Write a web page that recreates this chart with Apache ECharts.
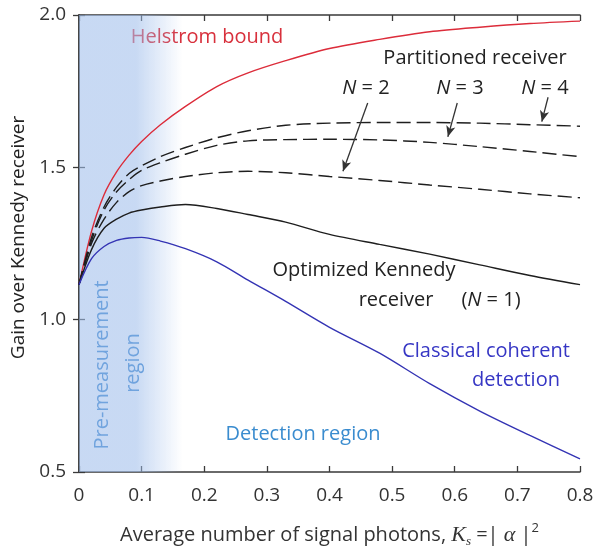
<!DOCTYPE html>
<html>
<head>
<meta charset="utf-8">
<script src="https://cdn.jsdelivr.net/npm/echarts@6/dist/echarts.min.js"></script>
<style>
  html, body { margin: 0; padding: 0; background: #fff; }
  #chartBox { width: 600px; height: 548px; }
</style>
</head>
<body>
<div id="chartBox"></div>
<script>
// photon number (x) and gain values
let photons = [0, 0.02, 0.04, 0.06, 0.08, 0.1, 0.13, 0.17, 0.22, 0.27, 0.33, 0.4, 0.48, 0.56, 0.64, 0.72, 0.8]
let helstrom = [1.115, 1.29, 1.41, 1.485, 1.54, 1.585, 1.64, 1.70, 1.765, 1.81, 1.85, 1.89, 1.92, 1.945, 1.96, 1.972, 1.98]
let partN4 = [1.115, 1.27, 1.37, 1.435, 1.48, 1.505, 1.535, 1.565, 1.597, 1.62, 1.638, 1.645, 1.647, 1.647, 1.645, 1.64, 1.635]
let partN3 = [1.115, 1.26, 1.36, 1.42, 1.46, 1.49, 1.515, 1.543, 1.572, 1.587, 1.591, 1.592, 1.59, 1.582, 1.568, 1.552, 1.535]
let partN2 = [1.115, 1.25, 1.33, 1.385, 1.42, 1.44, 1.455, 1.47, 1.482, 1.487, 1.482, 1.47, 1.457, 1.442, 1.428, 1.413, 1.40]
let kennedy = [1.115, 1.23, 1.30, 1.33, 1.35, 1.36, 1.37, 1.378, 1.365, 1.345, 1.32, 1.28, 1.247, 1.215, 1.18, 1.145, 1.115]
let classical = [1.115, 1.20, 1.24, 1.26, 1.268, 1.27, 1.258, 1.233, 1.19, 1.13, 1.06, 0.975, 0.89, 0.79, 0.70, 0.62, 0.543]

let xTicks = [0, 0.1, 0.2, 0.3, 0.4, 0.5, 0.6, 0.7, 0.8]
let yTicks = [0.5, 1.0, 1.5, 2.0]
let preRegion = [0, 0.165]

// arrows from the N labels down to the curves
let arrowN2 = [[0.461, 1.711], [0.4215, 1.487]]
let arrowN3 = [[0.604, 1.711], [0.589, 1.60]]
let arrowN4 = [[0.749, 1.73], [0.739, 1.65]]

const FONT = '"Open Sans", Lato, sans-serif'

function pairs (ys) {
  return photons.map(function (x, i) { return [x, ys[i]] })
}

function curve (name, ys, color, dashed) {
  return {
    name: name,
    type: 'line',
    data: pairs(ys),
    smooth: 0.3,
    symbol: 'none',
    z: 2,
    lineStyle: { color: color, width: 1.4, type: dashed ? [14, 6] : 'solid' }
  }
}

function arrow (pts) {
  return [{ coord: pts[0], symbol: 'none' }, { coord: pts[1], symbol: 'arrow', symbolSize: [7, 11] }]
}

function label (x, y, text, color, extra) {
  let el = {
    type: 'text', x: x, y: y,
    style: {
      text: text, font: '20px ' + FONT, fill: color, align: 'center', verticalAlign: 'middle',
      rich: { i: { fontStyle: 'italic', fontSize: 20, fontFamily: FONT, fill: color } }
    }
  }
  return Object.assign(el, extra || {})
}

let myChart = echarts.init(document.getElementById('chartBox'))

let axisLine = { lineStyle: { color: '#3a3a3a', width: 1.5 } }
let tick = { inside: true, length: 6, lineStyle: { color: '#3a3a3a', width: 1.3 } }

myChart.setOption({
  animation: false,
  grid: { left: 79, right: 20, top: 15, bottom: 76, outerBoundsMode: 'none' },
  xAxis: [{
    type: 'value',
    min: xTicks[0],
    max: xTicks[xTicks.length - 1],
    interval: 0.1,
    axisLine: axisLine,
    axisTick: tick,
    splitLine: { show: false },
    axisLabel: {
      margin: 14,
      color: '#333',
      fontSize: 19,
      fontFamily: FONT,
      formatter: function (v) { return v === 0 ? '0' : v.toFixed(1) }
    },
    name: '{a|Average number of signal photons, }{k|K}{s|s}{a| =| }{k|α}{a| |}{p|2}',
    nameLocation: 'middle',
    nameGap: 50,
    nameTextStyle: {
      rich: {
        a: { fontSize: 20, fontFamily: FONT, color: '#333', lineHeight: 26 },
        k: { fontSize: 22, fontFamily: '"Liberation Serif", serif', fontStyle: 'italic', color: '#333', lineHeight: 26 },
        s: { fontSize: 13, fontFamily: '"Liberation Serif", serif', fontStyle: 'italic', color: '#333', verticalAlign: 'bottom', lineHeight: 18 },
        p: { fontSize: 13, fontFamily: FONT, color: '#333', verticalAlign: 'top', lineHeight: 14 }
      }
    }
  }, {
    type: 'value',
    position: 'top',
    min: xTicks[0],
    max: xTicks[xTicks.length - 1],
    interval: 0.1,
    axisLine: axisLine,
    axisTick: tick,
    axisLabel: { show: false },
    splitLine: { show: false }
  }],
  yAxis: [{
    type: 'value',
    min: yTicks[0],
    max: yTicks[yTicks.length - 1],
    interval: 0.5,
    axisLine: axisLine,
    axisTick: tick,
    splitLine: { show: false },
    axisLabel: {
      margin: 13,
      color: '#333',
      fontSize: 19,
      fontFamily: FONT,
      padding: [6, 0, 0, 0],
      formatter: function (v) { return v.toFixed(1) }
    },
    name: 'Gain over Kennedy receiver',
    nameLocation: 'middle',
    nameGap: 47,
    nameTextStyle: { fontSize: 19, fontFamily: FONT, color: '#222', padding: [0, 0, 0, 12] }
  }, {
    type: 'value',
    position: 'right',
    min: yTicks[0],
    max: yTicks[yTicks.length - 1],
    interval: 0.5,
    axisLine: axisLine,
    axisTick: tick,
    axisLabel: { show: false },
    splitLine: { show: false }
  }],
  graphic: [
    label(207, 37, 'Helstrom bound', '#d8303c'),
    label(475, 58, 'Partitioned receiver', '#222'),
    label(366, 88, '{i|N} = 2', '#222'),
    label(460, 88, '{i|N} = 3', '#222'),
    label(545, 88, '{i|N} = 4', '#222'),
    label(364, 270, 'Optimized Kennedy', '#222'),
    label(396, 300, 'receiver', '#222'),
    label(491, 300, '({i|N} = 1)', '#222'),
    label(486, 351, 'Classical coherent', '#3636c4'),
    label(516, 380, 'detection', '#3636c4'),
    label(303, 434, 'Detection region', '#3a8ccf'),
    label(102, 365, 'Pre-measurement', '#2f7fcc', { rotation: Math.PI / 2 }),
    label(133, 363, 'region', '#2f7fcc', { rotation: Math.PI / 2 })
  ],
  series: [
    curve('Helstrom bound', helstrom, '#dc2c3a', false),
    curve('N = 4', partN4, '#1e1e1e', true),
    curve('N = 3', partN3, '#1e1e1e', true),
    curve('N = 2', partN2, '#1e1e1e', true),
    curve('Optimized Kennedy', kennedy, '#1e1e1e', false),
    curve('Classical coherent', classical, '#3434b4', false),
    {
      name: 'regions',
      type: 'line',
      data: [],
      z: 3,
      silent: true,
      markArea: {
        silent: true,
        itemStyle: {
          color: new echarts.graphic.LinearGradient(0, 0, 1, 0, [
            { offset: 0, color: 'rgba(160,190,235,0.58)' },
            { offset: 0.55, color: 'rgba(160,190,235,0.58)' },
            { offset: 1, color: 'rgba(160,190,235,0)' }
          ])
        },
        data: [[{ xAxis: preRegion[0] }, { xAxis: preRegion[1] }]]
      },
      markLine: {
        silent: true,
        symbol: 'none',
        label: { show: false },
        lineStyle: { color: '#333', width: 1.3, type: 'solid' },
        data: [arrow(arrowN2), arrow(arrowN3), arrow(arrowN4)]
      }
    }
  ]
})
</script>
</body>
</html>
